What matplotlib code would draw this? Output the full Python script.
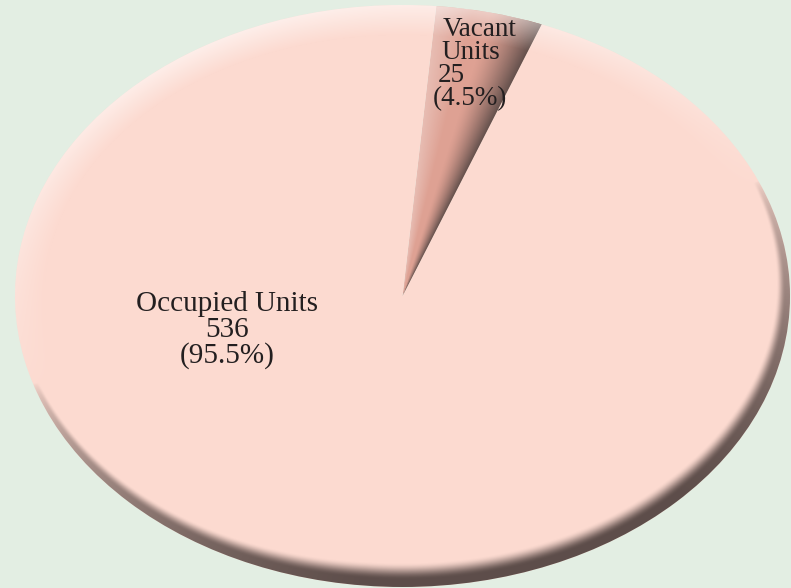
import numpy as np
import matplotlib
matplotlib.use("Agg")
import matplotlib.pyplot as plt
from matplotlib.patches import Circle

# data
labels = ["Vacant Units", "Occupied Units"]
values = [25, 536]
colors = ["#dea193", "#fcdad0"]

bg = "#e3eee3"
dark = np.array([0.34, 0.28, 0.27])

fig = plt.figure(figsize=(7.91, 5.88), dpi=100, facecolor=bg)
# axes box spans the ellipse, auto aspect stretches the circle
ax = fig.add_axes([15 / 791, 1 / 588, 775 / 791, 582 / 588])

wedges, _ = ax.pie(values, colors=colors, startangle=85, counterclock=False,
                   radius=1, center=(0, 0), wedgeprops=dict(linewidth=0))
ax.set_aspect("auto")
ax.axis("off")

# grid for shading overlays
n = 800
xs = np.linspace(-1, 1, n)
X, Y = np.meshgrid(xs, xs[::-1])
R = np.hypot(X, Y) + 1e-9
NX, NY = X / R, Y / R
reff = np.hypot(387 * NX, 291 * NY)
dpx = (1 - R) * reff  # approx pixel distance to rim

# bevel: dark rim bottom-right, light rim top-left
L = np.array([-0.35, 0.94])
s = NX * L[0] + NY * L[1]
k = np.clip((0.05 - s) / 0.95, 0, 1)
width = 6 + 18 * k
u = np.clip((width - dpx) / (width * 0.7), 0, 1)
a_dark = 0.96 * k ** 0.55 * (u * u * (3 - 2 * u))
a_light = np.clip(s, 0, 1) * np.clip(1 - dpx / 30, 0, 1) * 0.55

rgba = np.zeros((n, n, 4))
a_tot = a_dark + a_light * (1 - a_dark)
col = (dark[None, None, :] * a_dark[..., None]
       + np.ones(3)[None, None, :] * (a_light * (1 - a_dark))[..., None])
rgba[..., :3] = col / np.maximum(a_tot, 1e-9)[..., None]
rgba[..., 3] = a_tot
im = ax.imshow(rgba, extent=(-1, 1, -1, 1), interpolation="bilinear", zorder=3, aspect="auto")
im.set_clip_path(Circle((0, 0), 1, transform=ax.transData))

# shading across the vacant slice
w = wedges[0]
t1, t2 = w.theta1, w.theta2
TH = np.degrees(np.arctan2(Y, X)) % 360
t = np.clip((t2 - TH) / (t2 - t1), 0, 1)
rg = np.zeros((n, n, 4))
wd = np.clip((t - 0.5) / 0.5, 0, 1) ** 1.4
wl = np.clip(1 - t / 0.35, 0, 1)
rg[..., :3] = dark[None, None, :] * (wd > 0)[..., None] + np.ones(3) * (wd == 0)[..., None]
rg[..., 3] = np.where(wd > 0, wd * 0.9, wl * 0.3)
im2 = ax.imshow(rg, extent=(-1, 1, -1, 1), interpolation="bilinear", zorder=2.5, aspect="auto")
im2.set_clip_path(w)
ax.set_xlim(-1, 1)
ax.set_ylim(-1, 1)

# labels
total = sum(values)
pct = [v / total * 100 for v in values]
font = dict(family="Liberation Serif", color="#231f20", zorder=5)
vac_lines = ["Vacant", "Units", str(values[0]), "(%.1f%%)" % pct[0]]
vac_x = [0.104, 0.101, 0.091, 0.078]
for i, (line, x) in enumerate(zip(vac_lines, vac_x)):
    ax.text(x, 0.915 - i * 0.079, line, ha="left", va="center", fontsize=19.5, **font)
ax.text(-0.453, -0.117, "%s\n%d\n(%.1f%%)" % (labels[1], values[1], pct[1]),
        ha="center", va="center", multialignment="center", linespacing=0.98,
        fontsize=21, **font)

fig.savefig("out.png", dpi=100, facecolor=bg)
